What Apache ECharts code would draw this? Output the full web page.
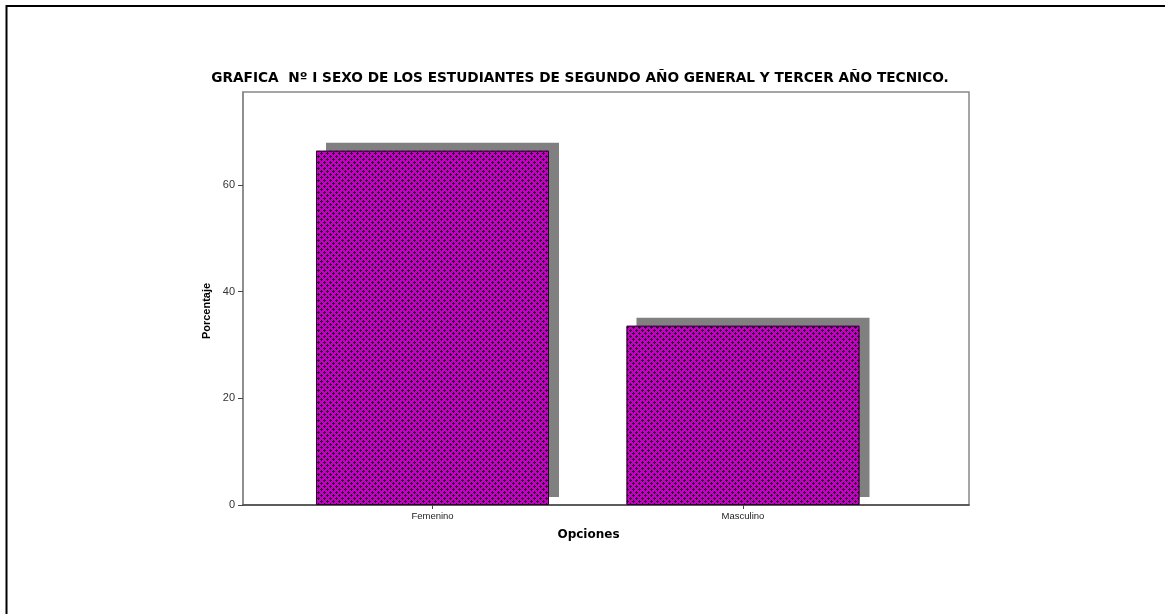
<!DOCTYPE html>
<html>
<head>
<meta charset="utf-8">
<script src="https://cdn.jsdelivr.net/npm/echarts@6/dist/echarts.min.js"></script>
<style>
html,body{margin:0;padding:0;background:#fff;}
#c{width:1165px;height:614px;}
</style>
</head>
<body>
<div id="c"></div>
<script>
const categories = ['Femenino', 'Masculino'];
const percentages = [66.4, 33.6];
const yTicks = [0, 20, 40, 60];
const titleText = 'GRAFICA  Nº I SEXO DE LOS ESTUDIANTES DE SEGUNDO AÑO GENERAL Y TERCER AÑO TECNICO.';
const yName = 'Porcentaje';
const xName = 'Opciones';

// hatch pattern tile
const tile = document.createElement('canvas');
tile.width = 6; tile.height = 6;
const tc = tile.getContext('2d');
tc.fillStyle = '#c400c4';
tc.fillRect(0, 0, 6, 6);
tc.fillStyle = '#2a002a';
[[3,2],[2,3],[3,3],[4,3],[3,4],[0,5],[5,0],[0,0],[1,0],[0,1]].forEach(function (p) { tc.fillRect(p[0], p[1], 1, 1); });

const chart = echarts.init(document.getElementById('c'), null, {renderer: 'canvas'});
const yMax = 77.4;
chart.setOption({
  animation: false,
  backgroundColor: '#fff',
  title: {
    text: titleText,
    left: 575, top: 66, textAlign: 'center',
    textStyle: {fontFamily: 'DejaVu Sans', fontSize: 13.7, fontWeight: 'bold', color: '#000'}
  },
  graphic: [
    {type: 'line', shape: {x1: 6.5, y1: 6, x2: 1165, y2: 6}, style: {stroke: '#000', lineWidth: 2}},
    {type: 'line', shape: {x1: 6.5, y1: 5, x2: 6.5, y2: 614}, style: {stroke: '#000', lineWidth: 2}},
    {type: 'text', x: 207, y: 311, rotation: Math.PI / 2,
     style: {text: yName, fontFamily: 'Liberation Sans', fontSize: 11, fontWeight: 'bold', fill: '#000', align: 'center', verticalAlign: 'middle'}}
  ],
  grid: [
    {left: 243, top: 92, width: 726, height: 413, show: true, borderColor: '#888', borderWidth: 1.5, backgroundColor: '#fff'},
    {left: 277.25, top: 92, width: 621, height: 413}
  ],
  xAxis: [
    {gridIndex: 0, type: 'value', min: 0, max: 1, splitLine: {show: false}, axisTick: {show: false}, axisLabel: {show: false},
     axisLine: {show: true, lineStyle: {color: '#444', width: 1.5}},
     name: xName, nameLocation: 'middle', nameGap: 24,
     nameTextStyle: {fontFamily: 'DejaVu Sans', fontSize: 12, fontWeight: 'bold', color: '#000', padding: [0, 0, 0, -35]}},
    {gridIndex: 1, type: 'category', data: categories, axisLine: {show: false},
     axisTick: {show: true, alignWithLabel: true, length: 4, lineStyle: {color: '#444'}},
     axisLabel: {fontFamily: 'Liberation Sans', fontSize: 9.5, color: '#222', margin: 6}}
  ],
  yAxis: [
    {gridIndex: 0, type: 'value', min: 0, max: yMax, splitLine: {show: false},
     axisLine: {show: true, lineStyle: {color: '#888', width: 1.5}},
     axisTick: {show: true, length: 5, customValues: yTicks, lineStyle: {color: '#444'}},
     axisLabel: {customValues: yTicks, fontFamily: 'Liberation Sans', fontSize: 11, color: '#333', margin: 8}},
    {gridIndex: 1, type: 'value', min: 0, max: yMax, show: false, splitLine: {show: false}}
  ],
  series: [{
    type: 'bar', xAxisIndex: 1, yAxisIndex: 1,
    data: percentages, barWidth: 233,
    itemStyle: {
      color: {image: tile, repeat: 'repeat'}, borderWidth: 0,
      shadowColor: '#808080', shadowOffsetX: 10, shadowOffsetY: -8, shadowBlur: 0
    }
  }, {
    type: 'bar', xAxisIndex: 1, yAxisIndex: 1, silent: true,
    data: percentages, barWidth: 233, barGap: '-100%', z: 3,
    itemStyle: {color: 'rgba(0,0,0,0)', borderColor: '#2a002a', borderWidth: 1}
  }]
});
</script>
</body>
</html>
